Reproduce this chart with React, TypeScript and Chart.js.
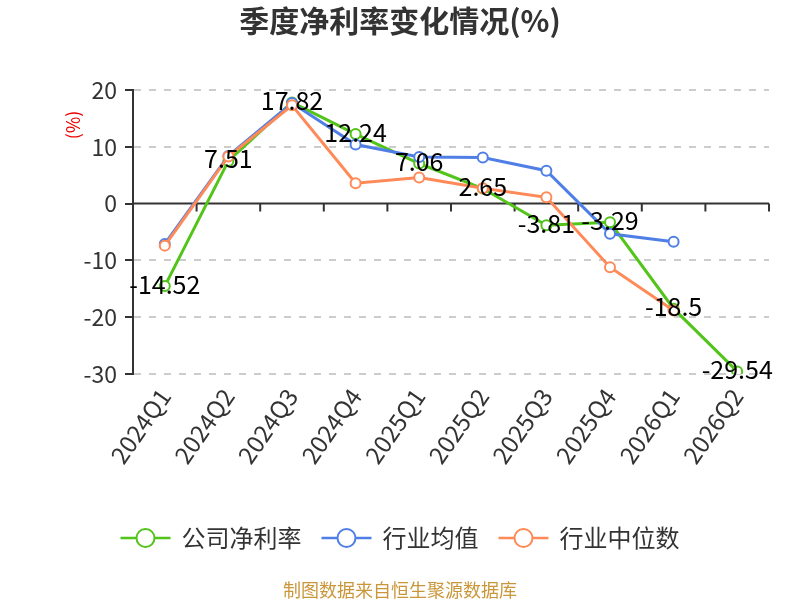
import { useEffect, useRef } from "react"
import { Chart, registerables } from "chart.js"

Chart.register(...registerables)

const FONT = '"Noto Sans CJK SC", "Noto Sans", sans-serif'

// data
const quarters = ["2024Q1", "2024Q2", "2024Q3", "2024Q4", "2025Q1", "2025Q2", "2025Q3", "2025Q4", "2026Q1", "2026Q2"]
const companyRate = [-14.52, 7.51, 17.82, 12.24, 7.06, 2.65, -3.81, -3.29, -18.5, -29.54]
const industryAvg = [-7.1, 8.4, 17.7, 10.4, 8.2, 8.1, 5.8, -5.3, -6.7, null]
const industryMedian = [-7.4, 8.3, 17.3, 3.6, 4.6, 2.7, 1.1, -11.2, -18.8, null]
const seriesNames = ["公司净利率", "行业均值", "行业中位数"]
const seriesColors = ["#52c41a", "#4f7fe6", "#ff8a57"]
const yTicks = [20, 10, 0, -10, -20, -30]

const titleText = "季度净利率变化情况(%)"
const yTitle = "(%)"
const footerText = "制图数据来自恒生聚源数据库"

const decorPlugin = {
  id: "decor",
  beforeDatasetsDraw(chart: any) {
    const { ctx, chartArea } = chart
    const x = chart.scales.x
    const y0 = chart.scales.y.getPixelForValue(0)
    ctx.save()
    ctx.strokeStyle = "#333"
    ctx.lineWidth = 2
    ctx.beginPath()
    ctx.moveTo(chartArea.left, y0)
    ctx.lineTo(chartArea.right, y0)
    ctx.stroke()
    // tick marks between categories
    const step = x.getPixelForValue(1) - x.getPixelForValue(0)
    ctx.beginPath()
    for (let i = 0; i < quarters.length; i++) {
      const px = x.getPixelForValue(i) + step / 2
      ctx.moveTo(px, y0)
      ctx.lineTo(px, y0 + 8)
    }
    ctx.stroke()
    ctx.restore()
  },
  afterDatasetsDraw(chart: any) {
    const { ctx } = chart
    const meta = chart.getDatasetMeta(0)
    ctx.save()
    ctx.font = `25px ${FONT}`
    ctx.fillStyle = "#000"
    ctx.textAlign = "center"
    ctx.textBaseline = "middle"
    meta.data.forEach((pt: any, i: number) => {
      ctx.fillText(String(companyRate[i]), pt.x, pt.y - 2)
    })
    ctx.restore()
  },
  afterDraw(chart: any) {
    const { ctx, width } = chart
    ctx.save()
    // title
    ctx.font = `bold 30px ${FONT}`
    ctx.fillStyle = "#333"
    ctx.textAlign = "center"
    ctx.textBaseline = "middle"
    ctx.fillText(titleText, width / 2, 21)

    // y axis title
    ctx.save()
    ctx.translate(73, 125)
    ctx.rotate(-Math.PI / 2)
    ctx.font = `18px ${FONT}`
    ctx.fillStyle = "#e00"
    ctx.fillText(yTitle, 0, 0)
    ctx.restore()

    // legend
    ctx.font = `24px ${FONT}`
    ctx.textAlign = "left"
    const iconW = 50
    const gapText = 11
    const gapItem = 20
    const widths = seriesNames.map((n) => iconW + gapText + ctx.measureText(n).width)
    const total = widths.reduce((a, b) => a + b, 0) + gapItem * (seriesNames.length - 1)
    let lx = (width - total) / 2
    const ly = 538
    seriesNames.forEach((name, i) => {
      ctx.strokeStyle = seriesColors[i]
      ctx.lineWidth = 2.5
      ctx.beginPath()
      ctx.moveTo(lx, ly)
      ctx.lineTo(lx + iconW, ly)
      ctx.stroke()
      ctx.beginPath()
      ctx.arc(lx + iconW / 2, ly, 9, 0, Math.PI * 2)
      ctx.fillStyle = "#fff"
      ctx.fill()
      ctx.lineWidth = 2
      ctx.stroke()
      ctx.fillStyle = "#333"
      ctx.fillText(name, lx + iconW + gapText, ly)
      lx += widths[i] + gapItem
    })

    // footer
    ctx.font = `18px ${FONT}`
    ctx.fillStyle = "#c9973a"
    ctx.textAlign = "center"
    ctx.fillText(footerText, width / 2, 590)
    ctx.restore()
  },
}

export default function App() {
  const chartRef = useRef<HTMLCanvasElement>(null)
  const chartInstance = useRef<Chart | null>(null)

  useEffect(() => {
    if (!chartRef.current) return
    if (chartInstance.current) chartInstance.current.destroy()
    const ctx = chartRef.current.getContext("2d")
    if (!ctx) return

    const series = [companyRate, industryAvg, industryMedian]

    chartInstance.current = new Chart(ctx, {
      type: "line",
      data: {
        labels: quarters,
        datasets: series.map((values, i) => ({
          label: seriesNames[i],
          data: values,
          borderColor: seriesColors[i],
          backgroundColor: "#fff",
          pointBackgroundColor: "#fff",
          pointBorderColor: seriesColors[i],
          pointBorderWidth: 2,
          pointRadius: 5,
          borderWidth: 3,
          tension: 0,
          spanGaps: false,
          order: 3 - i,
        })),
      },
      options: {
        animation: false,
        responsive: true,
        maintainAspectRatio: false,
        layout: { padding: { top: 90, right: 31, bottom: 0, left: 0 } },
        plugins: {
          legend: { display: false },
          title: { display: false },
          tooltip: { enabled: false },
        },
        scales: {
          x: {
            type: "category",
            offset: true,
            grid: { display: false, drawTicks: false },
            border: { display: false },
            ticks: {
              color: "#333",
              font: { family: FONT, size: 24 },
              minRotation: 55,
              maxRotation: 55,
              padding: 9,
              autoSkip: false,
            },
            afterFit: (scale: any) => {
              scale.height = 226
            },
          },
          y: {
            min: yTicks[yTicks.length - 1],
            max: yTicks[0],
            afterBuildTicks: (scale: any) => {
              scale.ticks = yTicks.map((v) => ({ value: v }))
            },
            grid: {
              color: (c: any) => (c.tick && c.tick.value === 0 ? "rgba(0,0,0,0)" : "#ccc"),
              lineWidth: 2,
              tickColor: "#333",
              tickLength: 8,
              tickWidth: 2,
            },
            border: { display: true, color: "#333", width: 2, dash: [7, 8] },
            ticks: {
              color: "#333",
              font: { family: FONT, size: 23 },
              padding: 8,
            },
            afterFit: (scale: any) => {
              scale.width = 133
            },
          },
        },
      },
      plugins: [decorPlugin],
    })

    return () => {
      if (chartInstance.current) {
        chartInstance.current.destroy()
        chartInstance.current = null
      }
    }
  }, [])

  return (
    <div style={{ position: "absolute", left: 0, top: 0, width: 800, height: 600 }}>
      <canvas ref={chartRef} />
    </div>
  )
}
